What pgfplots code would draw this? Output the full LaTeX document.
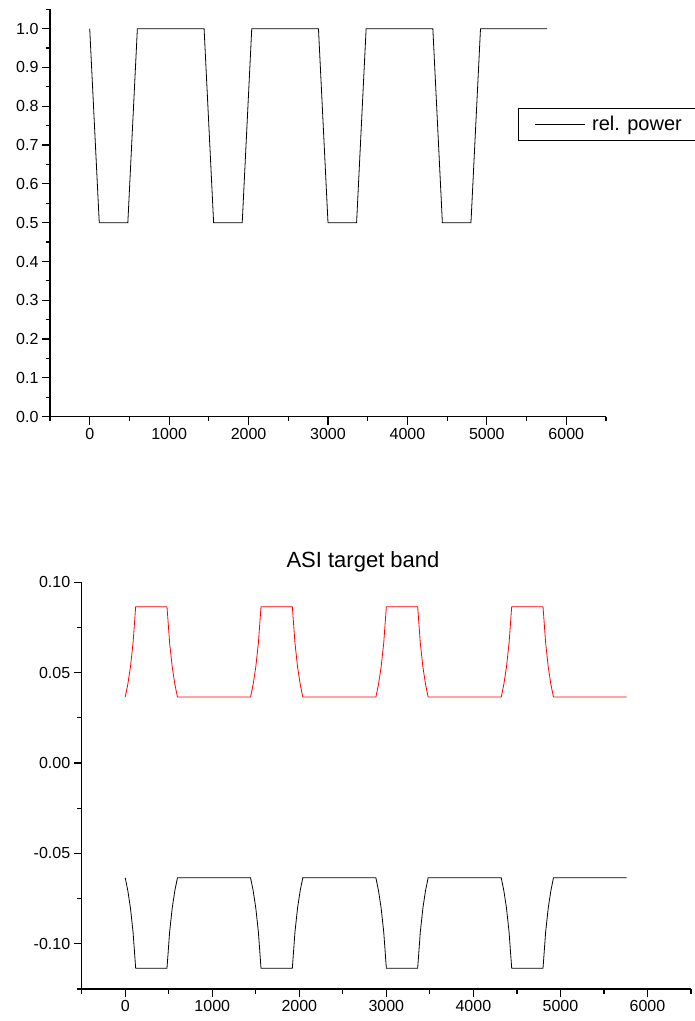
\documentclass[border=0pt]{standalone}
\usepackage{fontspec}
\setmainfont{Liberation Sans}
\usepackage{pgfplots}
\usepackage{pgfplotstable}
\pgfplotsset{compat=1.18}

% relative power over time (minutes)
\pgfplotstableread{
t p
0 1.0
120 0.5
480 0.5
600 1.0
1440 1.0
1560 0.5
1920 0.5
2040 1.0
2880 1.0
3000 0.5
3360 0.5
3480 1.0
4320 1.0
4440 0.5
4800 0.5
4920 1.0
5760 1.0
}\powertab

% upper limit of the ASI band
\pgfplotstableread{
t a
0 0.0365
30 0.04364
60 0.05317
90 0.0665
120 0.0865
480 0.0865
510 0.0665
540 0.05317
570 0.04364
600 0.0365
1440 0.0365
1470 0.04364
1500 0.05317
1530 0.0665
1560 0.0865
1920 0.0865
1950 0.0665
1980 0.05317
2010 0.04364
2040 0.0365
2880 0.0365
2910 0.04364
2940 0.05317
2970 0.0665
3000 0.0865
3360 0.0865
3390 0.0665
3420 0.05317
3450 0.04364
3480 0.0365
4320 0.0365
4350 0.04364
4380 0.05317
4410 0.0665
4440 0.0865
4800 0.0865
4830 0.0665
4860 0.05317
4890 0.04364
4920 0.0365
5760 0.0365
}\upperband

% lower limit of the ASI band
\pgfplotstableread{
t a
0 -0.0635
30 -0.07064
60 -0.08017
90 -0.0935
120 -0.1135
480 -0.1135
510 -0.0935
540 -0.08017
570 -0.07064
600 -0.0635
1440 -0.0635
1470 -0.07064
1500 -0.08017
1530 -0.0935
1560 -0.1135
1920 -0.1135
1950 -0.0935
1980 -0.08017
2010 -0.07064
2040 -0.0635
2880 -0.0635
2910 -0.07064
2940 -0.08017
2970 -0.0935
3000 -0.1135
3360 -0.1135
3390 -0.0935
3420 -0.08017
3450 -0.07064
3480 -0.0635
4320 -0.0635
4350 -0.07064
4380 -0.08017
4410 -0.0935
4440 -0.1135
4800 -0.1135
4830 -0.0935
4860 -0.08017
4890 -0.07064
4920 -0.0635
5760 -0.0635
}\lowerband

\pgfplotsset{
  origin axis/.style={
    scale only axis,
    axis x line*=bottom,
    axis y line*=left,
    axis line style={line width=1.2pt, black},
    tick align=outside,
    major tick length=8pt,
    minor tick length=4.5pt,
    tick style={line width=1.2pt, black},
    tick label style={font=\fontsize{16}{19}\selectfont},
    /pgf/number format/assume math mode=true,
    /pgf/number format/1000 sep={},
    xmin=-500, xmax=6500,
    xtick={0,1000,2000,3000,4000,5000,6000},
    minor xtick={-500,500,1500,2500,3500,4500,5500,6500},
    clip=false,
  },
}

\begin{document}
\begin{tikzpicture}
\useasboundingbox (0pt,0pt) rectangle (695pt,1021pt);

\begin{axis}[
  origin axis,
  at={(50pt,604.3pt)}, anchor=south west,
  width=556pt, height=407.4pt,
  ymin=0, ymax=1.05,
  ytick={0,0.1,0.2,0.3,0.4,0.5,0.6,0.7,0.8,0.9,1.0},
  minor ytick={0.05,0.15,0.25,0.35,0.45,0.55,0.65,0.75,0.85,0.95,1.05},
  yticklabel style={/pgf/number format/.cd, fixed, fixed zerofill, precision=1},
  legend style={at={(axis description cs:0.8417,0.7577)}, anchor=north west,
    draw=black, line width=0.8pt, font=\fontsize{20}{24}\selectfont,
    inner xsep=16pt, inner ysep=6pt},
  legend image code/.code={\draw[#1] (0pt,0pt) -- (50pt,0pt);},
]
\addplot[black, line width=0.8pt] table[x=t, y=p] {\powertab};
\addlegendentry{\hspace*{5pt}rel. power\hspace*{30pt}}
\end{axis}

\begin{axis}[
  origin axis,
  at={(81.7pt,32pt)}, anchor=south west,
  width=609.3pt, height=406.7pt,
  ymin=-0.125, ymax=0.10,
  ytick={-0.10,-0.05,0,0.05,0.10},
  minor ytick={-0.125,-0.075,-0.025,0.025,0.075},
  yticklabel style={/pgf/number format/.cd, fixed, fixed zerofill, precision=2},
  title={ASI target band},
  title style={at={(axis description cs:0.4617,1.0221)}, anchor=base,
    font=\fontsize{22}{26}\selectfont},
]
\addplot[red, line width=0.8pt] table[x=t, y=a] {\upperband};
\addplot[black, line width=0.8pt] table[x=t, y=a] {\lowerband};
\end{axis}
\end{tikzpicture}
\end{document}
